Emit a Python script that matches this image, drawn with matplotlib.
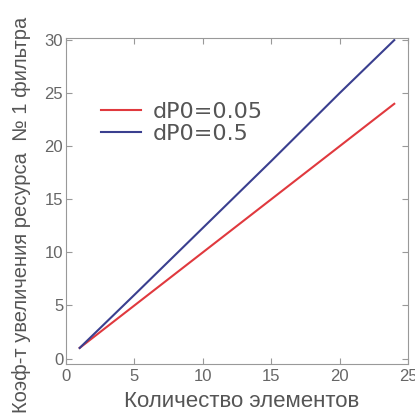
import numpy as np
import matplotlib.pyplot as plt

# values
n_elem = [1, 5, 10, 15, 20, 24]
k_005 = [1, 5, 10, 15, 20, 24]
k_05 = [1, 6.0, 12.3, 18.6, 25.0, 30.0]
labels = ["dP0=0.05", "dP0=0.5"]

plt.rcParams['font.family'] = ['Liberation Sans', 'DejaVu Sans']
fig = plt.figure(figsize=(4.15, 4.13), dpi=100)
ax = fig.add_axes([0.159, 0.119, 0.824, 0.789])

ax.plot(n_elem, k_005, color='#e0393e', lw=1.5, label=labels[0])
ax.plot(n_elem, k_05, color='#3a3f8f', lw=1.5, label=labels[1])

ax.set_xlim(0, 25)
ax.set_ylim(-0.5, 30.2)
ax.set_xticks([0, 5, 10, 15, 20, 25])
ax.set_yticks([0, 5, 10, 15, 20, 25, 30])
ax.tick_params(direction='in', top=True, right=True, colors='#999999',
               labelcolor='#666666', labelsize=12, length=4)
ax.tick_params(axis='y', pad=2)
for s in ax.spines.values():
    s.set_color('#999999')

fig.text(0.583, 0.027, "Количество элементов", fontsize=16,
         color='#555555', ha='center', va='center')
fig.text(0.051, 0.48, "Коэф-т увеличения ресурса  № 1 фильтра", fontsize=14.5,
         color='#555555', ha='center', va='center', rotation=90)

leg = ax.legend(loc='upper left', bbox_to_anchor=(0.045, 0.865), frameon=False,
                prop={'family': 'DejaVu Sans', 'size': 16}, handlelength=1.8,
                labelspacing=0.1, handletextpad=0.5, labelcolor='#555555')

fig.savefig("out.png", dpi=100)
